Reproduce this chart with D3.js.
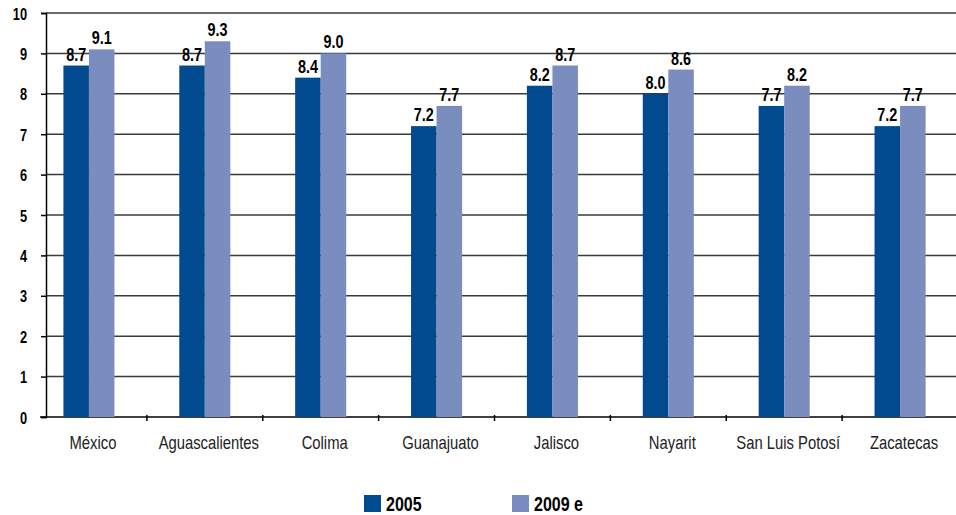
<!DOCTYPE html>
<html>
<head>
<meta charset="utf-8">
<script src="https://cdn.jsdelivr.net/npm/d3@7"></script>
<style>
    body { margin: 0; background: #fff; }
    svg text { font-family: "Liberation Sans", Arial, sans-serif; }
</style>
</head>
<body>
<div id="chart"></div>
<script>
// data
const categories = ["México", "Aguascalientes", "Colima", "Guanajuato", "Jalisco", "Nayarit", "San Luis Potosí", "Zacatecas"];
const series = ["2005", "2009 e"];
const values2005 = [8.7, 8.7, 8.4, 7.2, 8.2, 8.0, 7.7, 7.2];
const values2009 = [9.1, 9.3, 9.0, 7.7, 8.7, 8.6, 8.2, 7.7];
const yTicks = [0, 1, 2, 3, 4, 5, 6, 7, 8, 9, 10];
const colors = ["#024a8f", "#7b8cbf"];

const width = 956;
const height = 515;
const axisX = 46;      // y axis line
const plotRight = 956;
const plotTop = 13;
const plotBottom = 417;
const squeeze = 0.8;   // no narrow font installed, so squeeze Liberation Sans

const svg = d3.select("#chart").append("svg")
    .attr("width", width)
    .attr("height", height);

// put a text at (px, py) and squeeze it horizontally
function narrowAt(sel, px, py) {
    sel.attr("x", 0).attr("y", 0)
        .attr("transform", function(d, i) {
            return "translate(" + px(d, i) + "," + py(d, i) + ") scale(" + squeeze + ",1)";
        });
}

const x = d3.scaleBand()
    .domain(categories)
    .range([31, 958])
    .paddingInner(0)
    .paddingOuter(0);

const xSeries = d3.scaleBand()
    .domain(series)
    .range([0, x.bandwidth()])
    .paddingOuter(1.27);

const y = d3.scaleLinear()
    .domain([0, 10])
    .range([plotBottom, plotTop]);

// gridlines
svg.append("g").attr("class", "grid")
    .selectAll("line")
    .data(yTicks.filter(d => d > 0))
    .enter()
    .append("line")
    .attr("x1", axisX)
    .attr("x2", plotRight)
    .attr("y1", d => y(d))
    .attr("y2", d => y(d))
    .attr("stroke", "#3a3a3a")
    .attr("stroke-width", 1.5);

// y axis
const yAxis = svg.append("g")
    .attr("transform", "translate(" + axisX + ",0)")
    .call(d3.axisLeft(y).tickValues(yTicks).tickSize(5));
yAxis.select(".domain").attr("stroke", "#000").attr("stroke-width", 1.5);
yAxis.selectAll(".tick line").attr("stroke", "#000").attr("stroke-width", 1.5);
yAxis.selectAll(".tick text")
    .attr("fill", "#000")
    .attr("dy", null)
    .style("font-size", "16px")
    .style("font-weight", "bold")
    .call(narrowAt, () => -19, () => 6);

// x axis, ticks sit between the groups
const xAxis = svg.append("g")
    .attr("transform", "translate(0," + plotBottom + ")");
xAxis.append("line")
    .attr("x1", axisX - 6)
    .attr("x2", plotRight)
    .attr("stroke", "#000")
    .attr("stroke-width", 1.5);
xAxis.selectAll(".xtick")
    .data(categories.slice(1))
    .enter()
    .append("line")
    .attr("class", "xtick")
    .attr("x1", d => x(d))
    .attr("x2", d => x(d))
    .attr("y1", -2)
    .attr("y2", 4)
    .attr("stroke", "#000")
    .attr("stroke-width", 1.5);
xAxis.selectAll(".xlabel")
    .data(categories)
    .enter()
    .append("text")
    .attr("class", "xlabel")
    .attr("text-anchor", "middle")
    .attr("fill", "#222")
    .style("font-size", "18.5px")
    .text(d => d)
    .call(narrowAt, d => x(d) + x.bandwidth() / 2 + 4, () => 32);

// bars
const rows = categories.map((c, i) => ({cat: c, vals: [values2005[i], values2009[i]]}));

const groups = svg.append("g").attr("class", "bars")
    .selectAll("g")
    .data(rows)
    .enter()
    .append("g")
    .attr("transform", d => "translate(" + x(d.cat) + ",0)");

groups.selectAll("rect")
    .data(d => d.vals.map((v, j) => ({s: series[j], v: v, j: j})))
    .enter()
    .append("rect")
    .attr("x", d => xSeries(d.s))
    .attr("width", xSeries.bandwidth())
    .attr("y", d => y(d.v))
    .attr("height", d => y(0) - y(d.v))
    .attr("fill", d => colors[d.j]);

groups.selectAll("text")
    .data(d => d.vals.map((v, j) => ({s: series[j], v: v, j: j})))
    .enter()
    .append("text")
    .attr("text-anchor", "middle")
    .attr("fill", "#000")
    .style("font-size", "18px")
    .style("font-weight", "bold")
    .text(d => d.v.toFixed(1))
    .call(narrowAt, d => xSeries(d.s) + xSeries.bandwidth() / 2, d => y(d.v) - 5);

// legend
const legendX = [364, 512];
const legend = svg.append("g").attr("class", "legend")
    .selectAll("g")
    .data(series)
    .enter()
    .append("g")
    .attr("transform", (d, i) => "translate(" + legendX[i] + ",495)");
legend.append("rect")
    .attr("width", 17)
    .attr("height", 17)
    .attr("fill", (d, i) => colors[i]);
legend.append("text")
    .attr("fill", "#000")
    .style("font-size", "20px")
    .style("font-weight", "bold")
    .text(d => d)
    .call(narrowAt, () => 22, () => 16);
</script>
</body>
</html>
